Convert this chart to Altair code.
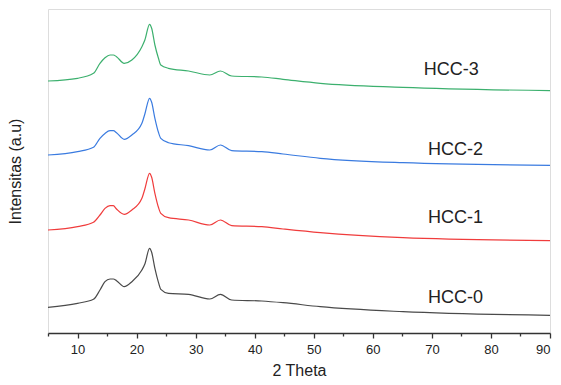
import altair as alt
import pandas as pd

# 2-theta positions (degrees)
theta = [5, 10, 12.7, 13.8, 14.65, 15.5, 16.06, 16.6, 17.9, 19.2, 20.9, 21.4, 22.2, 22.55,
         23.1, 23.7, 24.1, 25.4, 28.8, 32.4, 34.2, 36.1, 41.2, 44.8, 51.1, 65.1, 90]

# Intensities (a.u., offset stacked)
hcc0 = [25.7, 29.7, 33.7, 43, 51.3, 54, 54, 52.3, 46.3, 51.3, 63, 69, 84.7, 80.7,
        64.7, 50.7, 43.7, 39.7, 38.7, 34, 38.7, 33, 32, 30.3, 26.3, 21.3, 17.7]
hcc1 = [103, 106.3, 110.7, 118, 124.6, 127.3, 127.3, 124, 118.7, 123, 134.7, 144, 159.7, 155.7,
        139.7, 125.7, 119.7, 115.3, 113, 108, 113, 107.3, 106.3, 104, 100.3, 95.3, 92.3]
hcc2 = [178, 181.3, 185.7, 194.7, 199.6, 202.3, 202.3, 200.3, 193.7, 198, 209.7, 219, 234.7, 230.7,
        214.7, 200.7, 194.7, 190.3, 187.3, 183, 188, 182.3, 181.3, 179, 174.7, 170.3, 167.7]
hcc3 = [252, 254.7, 259.7, 269.7, 275.3, 278, 278, 276.3, 269.7, 273, 286.3, 293, 308.7, 304.7,
        288, 274.7, 268, 264.7, 262, 258, 262, 257, 256, 253.7, 249.7, 245.7, 242.3]

series_names = ["HCC-0", "HCC-1", "HCC-2", "HCC-3"]
series_colors = ["#4a4a4a", "#f03c3c", "#3a7be0", "#3cb06e"]

label_x = [74, 74, 74, 73.3]
label_y = [35, 115, 183, 263]

major_ticks = [10, 20, 30, 40, 50, 60, 70, 80, 90]
minor_ticks = [5, 15, 25, 35, 45, 55, 65, 75, 85]

rows = []
for name, vals in zip(series_names, [hcc0, hcc1, hcc2, hcc3]):
    for t, v in zip(theta, vals):
        rows.append({"theta": t, "intensity": v, "series": name})
df = pd.DataFrame(rows)
labels_df = pd.DataFrame({"x": label_x, "y": label_y, "text": series_names})

FONT = "Liberation Sans"
xscale = alt.Scale(domain=[5, 90], nice=False, zero=False)
yscale = alt.Scale(domain=[0, 324], nice=False, zero=False)

yaxis = alt.Axis(title="Intensitas (a.u)", labels=False, ticks=False,
                 domain=False, grid=False, titleFont=FONT,
                 titleFontSize=16, titleFontWeight="normal",
                 titleColor="#222", titlePadding=25)

lines = alt.Chart(df).mark_line(strokeWidth=1.2, interpolate="monotone").encode(
    x=alt.X("theta:Q", scale=xscale,
            axis=alt.Axis(values=major_ticks, title="2 Theta", grid=False, orient="bottom",
                          tickSize=5, tickWidth=1.3, tickColor="#333",
                          domainColor="#333", domainWidth=1.5,
                          labelFont=FONT, labelFontSize=13, labelColor="#222",
                          labelPadding=5, titleFont=FONT, titleFontSize=16,
                          titleFontWeight="normal", titleColor="#222",
                          titlePadding=6)),
    y=alt.Y("intensity:Q", scale=yscale, axis=yaxis),
    color=alt.Color("series:N", scale=alt.Scale(domain=series_names, range=series_colors),
                    legend=None),
    detail="series:N",
)

minor = alt.Chart(pd.DataFrame({"m": minor_ticks})).mark_tick(opacity=0).encode(
    x=alt.X("m:Q", scale=xscale,
            axis=alt.Axis(values=minor_ticks, labels=False, title=None, grid=False,
                          orient="bottom", tickSize=3, tickWidth=1.3, tickColor="#333",
                          domain=False)),
)

texts = alt.Chart(labels_df).mark_text(font=FONT, fontSize=18, color="#222",
                                       align="center", baseline="middle").encode(
    x=alt.X("x:Q", scale=xscale, axis=None),
    y=alt.Y("y:Q", scale=yscale, axis=yaxis),
    text="text:N",
)

chart = alt.layer(lines, minor, texts).resolve_axis(x="independent").properties(
    width=502, height=324,
    autosize=alt.AutoSizeParams(type="none"),
    padding={"left": 40, "top": 1, "right": 3, "bottom": 44},
).configure_view(stroke="#444", strokeWidth=1.5).configure(background="white")

chart.save("out.html", embed_options={"renderer": "svg", "actions": False})
